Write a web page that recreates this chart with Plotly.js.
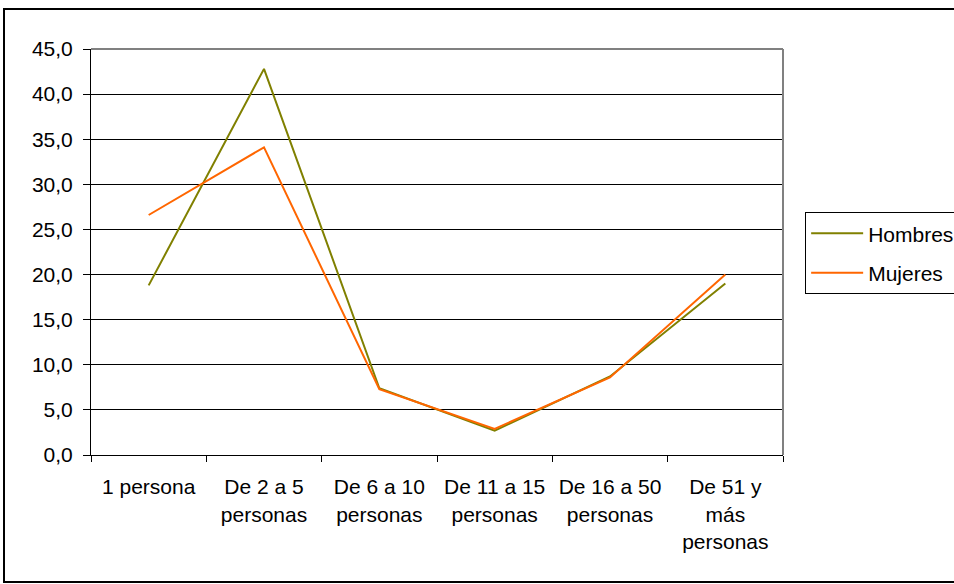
<!DOCTYPE html>
<html><head><meta charset="utf-8">
<script src="https://cdn.plot.ly/plotly-3.0.1.min.js"></script>
<style>
body{margin:0;padding:0;background:#fff;}
#wrap{position:relative;width:954px;height:584px;}
#chart{position:absolute;left:0;top:0;width:954px;height:584px;}
#frame{position:absolute;left:3px;top:8px;width:951px;height:575px;border:2px solid #000;border-right:none;box-sizing:border-box;pointer-events:none;}
</style></head>
<body>
<div id="wrap"><div id="chart"></div><div id="frame"></div></div>
<script>
const categories = ["1 persona","De 2 a 5<br>personas","De 6 a 10<br>personas","De 11 a 15<br>personas","De 16 a 50<br>personas","De 51 y<br>más<br>personas"];
const hombres = [18.8, 42.8, 7.4, 2.7, 8.7, 19.0];
const mujeres = [26.6, 34.1, 7.3, 2.9, 8.6, 20.0];
const yTicks = [0,5,10,15,20,25,30,35,40,45];

const traces = [
  {x: categories, y: hombres, name: "Hombres", legendgroup: "h", type: "scatter", mode: "lines", line: {color: "#808000", width: 2}},
  {x: categories, y: mujeres, name: "Mujeres", legendgroup: "m", type: "scatter", mode: "lines", line: {color: "#FF6600", width: 2}}
];
const layout = {
  width: 954, height: 584,
  margin: {l: 91, r: 171, t: 49, b: 129, autoexpand: false},
  paper_bgcolor: "#fff", plot_bgcolor: "#fff",
  separators: ",.",
  font: {family: "Liberation Sans, Arial, sans-serif", size: 21, color: "#000"},
  showlegend: true,
  legend: {x: 1.032, y: 0.598, xanchor: "left", yanchor: "top", bordercolor: "#000", borderwidth: 1,
           font: {size: 21}, itemwidth: 52, traceorder: "grouped", tracegroupgap: 9, bgcolor: "#fff"},
  xaxis: {type: "category", range: [-0.5, 5.5], tickson: "boundaries", ticks: "outside", ticklen: 6, tickcolor: "#000",
          showline: true, linecolor: "#000", linewidth: 1, showgrid: false, zeroline: false,
          ticklabelstandoff: 13, fixedrange: true},
  yaxis: {range: [0, 45], tickvals: yTicks, tickformat: ".1f", ticks: "outside", ticklen: 7, tickcolor: "#000",
          showline: true, linecolor: "#000", linewidth: 1, showgrid: true, gridcolor: "#000", gridwidth: 1,
          zeroline: false, ticklabelstandoff: 6},
  shapes: [
    {type: "line", xref: "paper", yref: "paper", x0: 0, x1: 1, y0: 1, y1: 1, line: {color: "#808080", width: 2}},
    {type: "line", xref: "paper", yref: "paper", x0: 1, x1: 1, y0: 0, y1: 1, line: {color: "#808080", width: 2}}
  ]
};
Plotly.newPlot("chart", traces, layout, {displayModeBar: false, staticPlot: true});
</script>
</body></html>
